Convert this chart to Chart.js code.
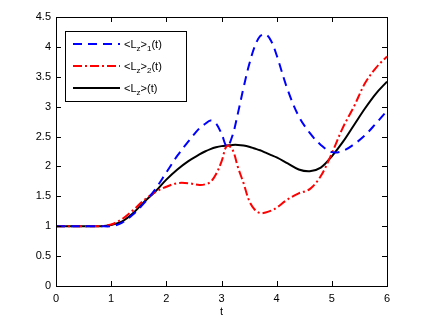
<!DOCTYPE html>
<html>
<head>
<meta charset="utf-8">
<script src="https://cdn.jsdelivr.net/npm/chart.js@4.4.0/dist/chart.umd.min.js"></script>
<style>
  html, body { margin: 0; padding: 0; background: #fff; }
  #wrap { width: 428px; height: 321px; }
</style>
</head>
<body>
<div id="wrap"><canvas id="lzChart" width="428" height="321"></canvas></div>
<script>
// time samples (t) and the three curves
const t = [0, 0.2, 0.4, 0.6, 0.8, 1.0, 1.2, 1.4, 1.6, 1.8, 2.0, 2.2, 2.4, 2.6, 2.7, 2.8, 2.9, 3.0, 3.1, 3.2,
           3.3, 3.4, 3.5, 3.6, 3.7, 3.8, 3.9, 4.0, 4.2, 4.4, 4.6, 4.8, 5.0, 5.2, 5.4, 5.6, 5.8, 6.0];
const lz1 = [1, 1, 1, 1, 1, 1.0, 1.06, 1.2, 1.39, 1.62, 1.9, 2.18, 2.42, 2.64, 2.71, 2.77, 2.72, 2.55, 2.33, 2.52,
             2.9, 3.32, 3.7, 4.0, 4.18, 4.21, 4.1, 3.86, 3.28, 2.84, 2.56, 2.36, 2.24, 2.26, 2.37, 2.52, 2.72, 2.93];
const lz2 = [1, 1, 1, 1, 1, 1.03, 1.12, 1.27, 1.44, 1.57, 1.66, 1.72, 1.72, 1.69, 1.7, 1.74, 1.87, 2.08, 2.35, 2.28,
             1.98, 1.72, 1.43, 1.28, 1.22, 1.23, 1.26, 1.31, 1.45, 1.55, 1.62, 1.84, 2.22, 2.65, 3.0, 3.39, 3.65, 3.84];
const lz = [1, 1, 1, 1, 1, 1.02, 1.08, 1.22, 1.41, 1.58, 1.78, 1.95, 2.09, 2.2, 2.25, 2.29, 2.32, 2.34, 2.35, 2.36,
            2.36, 2.35, 2.33, 2.3, 2.27, 2.23, 2.19, 2.15, 2.05, 1.95, 1.92, 1.98, 2.17, 2.41, 2.69, 2.97, 3.22, 3.42];

const xTicks = [0, 1, 2, 3, 4, 5, 6];
const yTicks = [0, 0.5, 1, 1.5, 2, 2.5, 3, 3.5, 4, 4.5];

const FONT = 'Liberation Sans, Arial, Helvetica, sans-serif';

function pts(vals) {
  return t.map((x, i) => ({ x: x, y: vals[i] }));
}

// legend entries: main text pieces, subscripts drawn smaller and lower
const legendItems = [
  { color: '#0000ff', dash: [9, 6], parts: [['<L', 0], ['z', 1], ['>', 0], ['1', 1], ['(t)', 0]] },
  { color: '#ff0000', dash: [9, 3, 2, 3], parts: [['<L', 0], ['z', 1], ['>', 0], ['2', 1], ['(t)', 0]] },
  { color: '#000000', dash: [], parts: [['<L', 0], ['z', 1], ['>(t)', 0]] }
];

// box around the axes, inward ticks on all four sides, and the legend
const matlabAxes = {
  id: 'matlabAxes',
  afterDatasetsDraw(chart) {
    const ctx = chart.ctx;
    const a = chart.chartArea;
    const xs = chart.scales.x, ys = chart.scales.y;
    const tl = 5;
    ctx.save();
    ctx.strokeStyle = '#000';
    ctx.lineWidth = 1;
    ctx.setLineDash([]);
    ctx.beginPath();
    xTicks.forEach(v => {
      const px = Math.round(xs.getPixelForValue(v)) + 0.5;
      ctx.moveTo(px, a.bottom); ctx.lineTo(px, a.bottom - tl);
      ctx.moveTo(px, a.top); ctx.lineTo(px, a.top + tl);
    });
    yTicks.forEach(v => {
      const py = Math.round(ys.getPixelForValue(v)) + 0.5;
      ctx.moveTo(a.left, py); ctx.lineTo(a.left + tl, py);
      ctx.moveTo(a.right, py); ctx.lineTo(a.right - tl, py);
    });
    ctx.stroke();
    ctx.strokeRect(Math.round(a.left) + 0.5, Math.round(a.top) + 0.5,
                   Math.round(a.right - a.left), Math.round(a.bottom - a.top));

    // legend
    const bx = 65.5, by = 31.5, bw = 121, bh = 70;
    ctx.fillStyle = '#fff';
    ctx.fillRect(bx, by, bw, bh);
    ctx.strokeRect(bx, by, bw, bh);
    legendItems.forEach((it, i) => {
      const y = 44 + i * 22;
      ctx.strokeStyle = it.color;
      ctx.lineWidth = 2;
      ctx.setLineDash(it.dash);
      ctx.beginPath();
      ctx.moveTo(73, y); ctx.lineTo(120, y);
      ctx.stroke();
      ctx.setLineDash([]);
      ctx.fillStyle = '#000';
      ctx.textBaseline = 'alphabetic';
      ctx.textAlign = 'left';
      let x = 124;
      it.parts.forEach(([txt, sub]) => {
        ctx.font = (sub ? '8px ' : '11px ') + FONT;
        ctx.fillText(txt, x, y + (sub ? 7 : 4));
        x += ctx.measureText(txt).width;
      });
    });
    ctx.restore();
  }
};

const ctx = document.getElementById('lzChart').getContext('2d');
new Chart(ctx, {
  type: 'line',
  data: {
    datasets: [
      { label: '<Lz>1(t)', data: pts(lz1), borderColor: '#0000ff', borderWidth: 2, borderDash: [9, 6] },
      { label: '<Lz>2(t)', data: pts(lz2), borderColor: '#ff0000', borderWidth: 2, borderDash: [9, 3, 2, 3] },
      { label: '<Lz>(t)', data: pts(lz), borderColor: '#000000', borderWidth: 2 }
    ]
  },
  options: {
    responsive: false,
    animation: false,
    events: [],
    layout: { padding: { top: 17, right: 41, left: 0, bottom: 0 } },
    elements: {
      point: { radius: 0 },
      line: { tension: 0.35, fill: false }
    },
    plugins: { legend: { display: false }, tooltip: { enabled: false } },
    scales: {
      x: {
        type: 'linear', min: 0, max: 6,
        afterFit: s => { s.height = 35; },
        afterBuildTicks: s => { s.ticks = xTicks.map(v => ({ value: v })); },
        grid: { display: false, drawTicks: false },
        border: { display: false },
        ticks: { color: '#000', padding: 6, font: { family: FONT, size: 11 }, maxRotation: 0 },
        title: { display: true, text: 't', color: '#000', font: { family: FONT, size: 11 }, padding: { top: 0, bottom: 2 } }
      },
      y: {
        min: 0, max: 4.5,
        afterFit: s => { s.width = 56; },
        afterBuildTicks: s => { s.ticks = yTicks.map(v => ({ value: v })); },
        grid: { display: false, drawTicks: false },
        border: { display: false },
        ticks: { color: '#000', padding: 5, font: { family: FONT, size: 11 }, callback: v => String(v) }
      }
    }
  },
  plugins: [matlabAxes]
});
</script>
</body>
</html>
